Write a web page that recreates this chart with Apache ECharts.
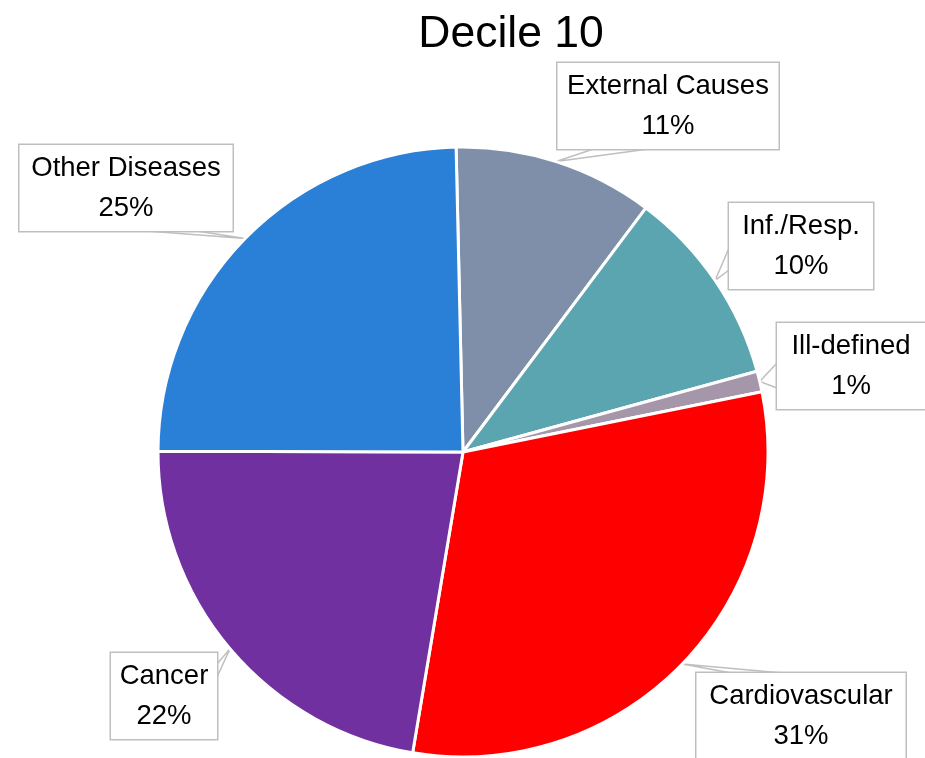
<!DOCTYPE html>
<html>
<head>
<meta charset="utf-8">
<script src="https://cdn.jsdelivr.net/npm/echarts@6/dist/echarts.min.js"></script>
<style>html,body{margin:0;padding:0;background:#fff;}#c{width:925px;height:758px;}</style>
</head>
<body>
<div id="c"></div>
<script>
var categories = ['External Causes', 'Inf./Resp.', 'Ill-defined', 'Cardiovascular', 'Cancer', 'Other Diseases'];
var values = [10.6, 10.5, 1.1, 30.8, 22.4, 24.6];
var colors = ['#7F8FAA', '#5BA5B0', '#A596AA', '#FF0000', '#7030A0', '#2A7FD6'];
var titleText = 'Decile 10';

// label box layout: center x, center y, box width
var labelBoxes = [
  [668, 106, 221],
  [801, 246, 144],
  [851, 366, 148],
  [801, 716, 209],
  [164, 696, 106],
  [126, 188, 213]
];
var BOX_H = 86;
// callout notch: side of box, and two offsets along that side (from its start)
var notches = [
  ['bottom', 36, 91],
  ['left', 45, 67],
  ['left', 40, 65],
  ['top', 35, 86],
  ['right', 11, 24],
  ['bottom', 127, 177]
];

var chart = echarts.init(document.getElementById('c'), null, {renderer: 'canvas'});
var data = categories.map(function (n, i) {
  return {
    name: n,
    value: values[i],
    itemStyle: {color: colors[i]},
    label: {width: labelBoxes[i][2] - 16}
  };
});

function notchPoints(i) {
  var b = labelBoxes[i], nt = notches[i];
  var l = b[0] - b[2] / 2, r = b[0] + b[2] / 2, t = b[1] - BOX_H / 2, bo = b[1] + BOX_H / 2;
  if (nt[0] === 'bottom') return [[l + nt[1], bo], [l + nt[2], bo]];
  if (nt[0] === 'top') return [[l + nt[1], t], [l + nt[2], t]];
  if (nt[0] === 'left') return [[l, t + nt[1]], [l, t + nt[2]]];
  return [[r, t + nt[1]], [r, t + nt[2]]];
}

chart.setOption({
  animation: false,
  title: {
    text: titleText,
    left: 506, top: 7, textAlign: 'center',
    textStyle: {fontFamily: 'Liberation Sans', fontSize: 44.5, fontWeight: 'normal', color: '#000'}
  },
  series: [{
    type: 'pie',
    center: [463, 452],
    radius: [0, 305],
    startAngle: 91.3,
    clockwise: true,
    percentPrecision: 0,
    avoidLabelOverlap: false,
    itemStyle: {borderColor: '#fff', borderWidth: 3},
    label: {
      show: true,
      position: 'outside',
      formatter: '{b}\n{d}%',
      fontFamily: 'Liberation Sans',
      fontSize: 27.5,
      lineHeight: 40,
      color: '#000',
      align: 'center',
      verticalAlign: 'middle',
      backgroundColor: '#fff',
      borderColor: '#BFBFBF',
      borderWidth: 1.5,
      padding: [6, 8, 0, 8]
    },
    labelLine: {show: true, length: 0, length2: 0, smooth: false, lineStyle: {color: '#BFBFBF', width: 1.5}},
    labelLayout: function (p) {
      var i = p.dataIndex;
      var b = labelBoxes[i];
      var res = {x: b[0], y: b[1], align: 'center', verticalAlign: 'middle', hideOverlap: false, moveOverlap: null};
      if (p.labelLinePoints && p.labelLinePoints.length) {
        var tip = p.labelLinePoints[0];
        var np = notchPoints(i);
        res.labelLinePoints = [np[0], [tip[0], tip[1]], np[1]];
      }
      return res;
    },
    data: data
  }]
});
</script>
</body>
</html>
